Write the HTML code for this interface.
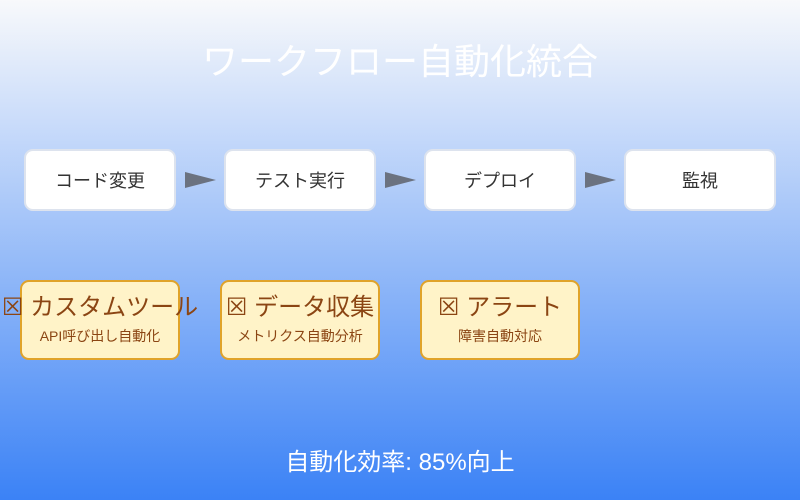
<!DOCTYPE html>
<html><head><meta charset="utf-8"><style>html,body{margin:0;padding:0}svg{display:block}</style></head>
<body>
<svg width="800" height="500" xmlns="http://www.w3.org/2000/svg" font-family="'Liberation Sans','Noto Sans CJK JP',sans-serif">
<defs><linearGradient id="g" x1="0" y1="0" x2="0" y2="1"><stop offset="0" stop-color="#f8f9fb"/><stop offset="1" stop-color="#3b82f6"/></linearGradient></defs>
<rect width="800" height="500" fill="url(#g)"/>
<text x="400" y="74" text-anchor="middle" font-size="36" fill="#ffffff">ワークフロー自動化統合</text>
<g fill="#ffffff" stroke="#dde3ee" stroke-width="2">
<rect x="25" y="150" width="150" height="60" rx="8"/>
<rect x="225" y="150" width="150" height="60" rx="8"/>
<rect x="425" y="150" width="150" height="60" rx="8"/>
<rect x="625" y="150" width="150" height="60" rx="8"/>
</g>
<g fill="#6b7280">
<polygon points="185,172 216,180 185,188"/>
<polygon points="385,172 416,180 385,188"/>
<polygon points="585,172 616,180 585,188"/>
</g>
<g font-size="18" fill="#333" text-anchor="middle">
<text x="100" y="187">コード変更</text>
<text x="300" y="187">テスト実行</text>
<text x="500" y="187">デプロイ</text>
<text x="700" y="187">監視</text>
</g>
<g fill="#fff3c8" stroke="#e0a32a" stroke-width="2">
<rect x="21" y="281" width="158" height="78" rx="8"/>
<rect x="221" y="281" width="158" height="78" rx="8"/>
<rect x="421" y="281" width="158" height="78" rx="8"/>
</g>
<g font-size="24" fill="#8b4513" text-anchor="middle">
<text x="100" y="315">☒ カスタムツール</text>
<text x="300" y="315">☒ データ収集</text>
<text x="500" y="315">☒ アラート</text>
</g>
<g font-size="14" fill="#8b4513" text-anchor="middle">
<text x="100" y="341">API呼び出し自動化</text>
<text x="300" y="341">メトリクス自動分析</text>
<text x="500" y="341">障害自動対応</text>
</g>
<text x="400" y="470" text-anchor="middle" font-size="24" fill="#ffffff">自動化効率: 85%向上</text>
</svg>
</body></html>
